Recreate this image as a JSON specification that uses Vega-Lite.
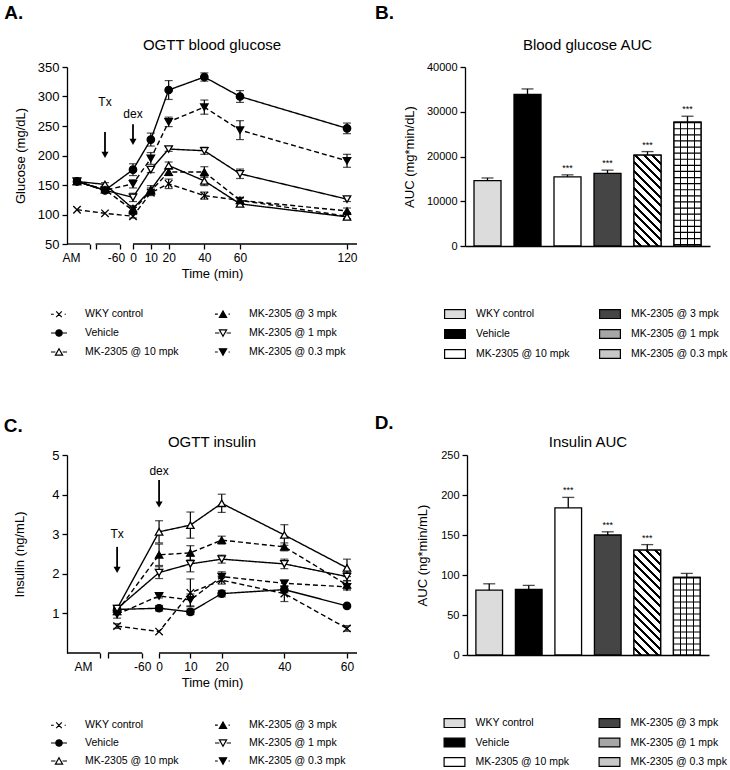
{
"$schema": "https://vega.github.io/schema/vega-lite/v6.json",
"padding": {"left": 3, "top": 4, "right": 3, "bottom": 3},
"config": {
  "font": "Liberation Sans",
  "view": {"stroke": null},
  "axis": {"domainColor": "black", "domainWidth": 1.3, "tickColor": "black", "tickWidth": 1.3, "tickSize": 5, "labelColor": "black", "labelFontSize": 12, "labelPadding": 3, "titleColor": "black", "titleFontSize": 13, "titleFontWeight": "normal", "grid": false, "labelOverlap": false, "labelFlush": false, "labelBound": false},
  "title": {"fontSize": 15, "fontWeight": "normal", "color": "black"},
  "legend": {"labelFontSize": 10.5, "labelColor": "black", "padding": 0}
},
"datasets": {
  "glucose": [
    {"s": "WKY control", "t": -31.4, "v": 108, "e": 0}, {"s": "WKY control", "t": -15.7, "v": 102, "e": 0}, {"s": "WKY control", "t": 0, "v": 97, "e": 3}, {"s": "WKY control", "t": 10, "v": 137, "e": 5}, {"s": "WKY control", "t": 20, "v": 152, "e": 8}, {"s": "WKY control", "t": 40, "v": 132, "e": 6}, {"s": "WKY control", "t": 60, "v": 124, "e": 5}, {"s": "WKY control", "t": 120, "v": 97, "e": 4},
    {"s": "Vehicle", "t": -31.4, "v": 156, "e": 4}, {"s": "Vehicle", "t": -15.7, "v": 141, "e": 4}, {"s": "Vehicle", "t": 0, "v": 176, "e": 10}, {"s": "Vehicle", "t": 10, "v": 227, "e": 11}, {"s": "Vehicle", "t": 20, "v": 311, "e": 16}, {"s": "Vehicle", "t": 40, "v": 333, "e": 7}, {"s": "Vehicle", "t": 60, "v": 300, "e": 10}, {"s": "Vehicle", "t": 120, "v": 246, "e": 9},
    {"s": "MK-2305 @ 10 mpk", "t": -31.4, "v": 156, "e": 4}, {"s": "MK-2305 @ 10 mpk", "t": -15.7, "v": 151, "e": 3}, {"s": "MK-2305 @ 10 mpk", "t": 0, "v": 110, "e": 5}, {"s": "MK-2305 @ 10 mpk", "t": 10, "v": 142, "e": 7}, {"s": "MK-2305 @ 10 mpk", "t": 20, "v": 183, "e": 6}, {"s": "MK-2305 @ 10 mpk", "t": 40, "v": 157, "e": 8}, {"s": "MK-2305 @ 10 mpk", "t": 60, "v": 118, "e": 4}, {"s": "MK-2305 @ 10 mpk", "t": 120, "v": 96, "e": 4},
    {"s": "MK-2305 @ 3 mpk", "t": -31.4, "v": 156, "e": 4}, {"s": "MK-2305 @ 3 mpk", "t": -15.7, "v": 142, "e": 3}, {"s": "MK-2305 @ 3 mpk", "t": 0, "v": 107, "e": 5}, {"s": "MK-2305 @ 3 mpk", "t": 10, "v": 140, "e": 5}, {"s": "MK-2305 @ 3 mpk", "t": 20, "v": 172, "e": 6}, {"s": "MK-2305 @ 3 mpk", "t": 40, "v": 172, "e": 9}, {"s": "MK-2305 @ 3 mpk", "t": 60, "v": 124, "e": 4}, {"s": "MK-2305 @ 3 mpk", "t": 120, "v": 106, "e": 5},
    {"s": "MK-2305 @ 1 mpk", "t": -31.4, "v": 156, "e": 4}, {"s": "MK-2305 @ 1 mpk", "t": -15.7, "v": 141, "e": 3}, {"s": "MK-2305 @ 1 mpk", "t": 0, "v": 129, "e": 7}, {"s": "MK-2305 @ 1 mpk", "t": 10, "v": 176, "e": 5}, {"s": "MK-2305 @ 1 mpk", "t": 20, "v": 211, "e": 4}, {"s": "MK-2305 @ 1 mpk", "t": 40, "v": 208, "e": 6}, {"s": "MK-2305 @ 1 mpk", "t": 60, "v": 169, "e": 8}, {"s": "MK-2305 @ 1 mpk", "t": 120, "v": 126, "e": 4},
    {"s": "MK-2305 @ 0.3 mpk", "t": -31.4, "v": 156, "e": 4}, {"s": "MK-2305 @ 0.3 mpk", "t": -15.7, "v": 141, "e": 3}, {"s": "MK-2305 @ 0.3 mpk", "t": 0, "v": 152, "e": 7}, {"s": "MK-2305 @ 0.3 mpk", "t": 10, "v": 195, "e": 10}, {"s": "MK-2305 @ 0.3 mpk", "t": 20, "v": 257, "e": 8}, {"s": "MK-2305 @ 0.3 mpk", "t": 40, "v": 282, "e": 12}, {"s": "MK-2305 @ 0.3 mpk", "t": 60, "v": 243, "e": 16}, {"s": "MK-2305 @ 0.3 mpk", "t": 120, "v": 191, "e": 11}
  ],
  "insulin": [
    {"s": "WKY control", "t": -13.4, "v": 0.68, "e": 0.06}, {"s": "WKY control", "t": 0, "v": 0.54, "e": 0}, {"s": "WKY control", "t": 10, "v": 1.52, "e": 0.35}, {"s": "WKY control", "t": 20, "v": 1.84, "e": 0.1}, {"s": "WKY control", "t": 40, "v": 1.5, "e": 0.2}, {"s": "WKY control", "t": 60, "v": 0.62, "e": 0.07},
    {"s": "Vehicle", "t": -13.4, "v": 1.1, "e": 0.08}, {"s": "Vehicle", "t": 0, "v": 1.13, "e": 0.07}, {"s": "Vehicle", "t": 10, "v": 1.04, "e": 0.07}, {"s": "Vehicle", "t": 20, "v": 1.5, "e": 0.08}, {"s": "Vehicle", "t": 40, "v": 1.6, "e": 0.08}, {"s": "Vehicle", "t": 60, "v": 1.19, "e": 0.03},
    {"s": "MK-2305 @ 10 mpk", "t": -13.4, "v": 1.12, "e": 0.08}, {"s": "MK-2305 @ 10 mpk", "t": 0, "v": 3.06, "e": 0.28}, {"s": "MK-2305 @ 10 mpk", "t": 10, "v": 3.23, "e": 0.33}, {"s": "MK-2305 @ 10 mpk", "t": 20, "v": 3.78, "e": 0.23}, {"s": "MK-2305 @ 10 mpk", "t": 40, "v": 2.98, "e": 0.26}, {"s": "MK-2305 @ 10 mpk", "t": 60, "v": 2.15, "e": 0.22},
    {"s": "MK-2305 @ 3 mpk", "t": -13.4, "v": 1.05, "e": 0.08}, {"s": "MK-2305 @ 3 mpk", "t": 0, "v": 2.48, "e": 0.27}, {"s": "MK-2305 @ 3 mpk", "t": 10, "v": 2.53, "e": 0.18}, {"s": "MK-2305 @ 3 mpk", "t": 20, "v": 2.85, "e": 0.1}, {"s": "MK-2305 @ 3 mpk", "t": 40, "v": 2.68, "e": 0.1}, {"s": "MK-2305 @ 3 mpk", "t": 60, "v": 1.72, "e": 0.1},
    {"s": "MK-2305 @ 1 mpk", "t": -13.4, "v": 1.12, "e": 0.08}, {"s": "MK-2305 @ 1 mpk", "t": 0, "v": 2.03, "e": 0.15}, {"s": "MK-2305 @ 1 mpk", "t": 10, "v": 2.25, "e": 0.2}, {"s": "MK-2305 @ 1 mpk", "t": 20, "v": 2.37, "e": 0.1}, {"s": "MK-2305 @ 1 mpk", "t": 40, "v": 2.25, "e": 0.12}, {"s": "MK-2305 @ 1 mpk", "t": 60, "v": 1.93, "e": 0.1},
    {"s": "MK-2305 @ 0.3 mpk", "t": -13.4, "v": 0.98, "e": 0.1}, {"s": "MK-2305 @ 0.3 mpk", "t": 0, "v": 1.44, "e": 0.05}, {"s": "MK-2305 @ 0.3 mpk", "t": 10, "v": 1.34, "e": 0.15}, {"s": "MK-2305 @ 0.3 mpk", "t": 20, "v": 1.93, "e": 0.12}, {"s": "MK-2305 @ 0.3 mpk", "t": 40, "v": 1.76, "e": 0.08}, {"s": "MK-2305 @ 0.3 mpk", "t": 60, "v": 1.67, "e": 0.08}
  ],
  "gauc": [
    {"g": "WKY control", "v": 14600, "e": 600, "sig": false},
    {"g": "Vehicle", "v": 33900, "e": 1200, "sig": false},
    {"g": "MK-2305 @ 10 mpk", "v": 15450, "e": 450, "sig": true},
    {"g": "MK-2305 @ 3 mpk", "v": 16250, "e": 700, "sig": true},
    {"g": "MK-2305 @ 1 mpk", "v": 20300, "e": 800, "sig": true},
    {"g": "MK-2305 @ 0.3 mpk", "v": 27700, "e": 1300, "sig": true}
  ],
  "iauc": [
    {"g": "WKY control", "v": 81, "e": 8, "sig": false},
    {"g": "Vehicle", "v": 82, "e": 5, "sig": false},
    {"g": "MK-2305 @ 10 mpk", "v": 184, "e": 13, "sig": true},
    {"g": "MK-2305 @ 3 mpk", "v": 150, "e": 4, "sig": true},
    {"g": "MK-2305 @ 1 mpk", "v": 131, "e": 7, "sig": true},
    {"g": "MK-2305 @ 0.3 mpk", "v": 97, "e": 5, "sig": false}
  ],
  "annA": [{"t": -15.7, "ytxt": 290, "y1": 240, "y2": 201, "lab": "Tx"}, {"t": 0, "ytxt": 270, "y1": 253, "y2": 223, "lab": "dex"}],
  "annC": [{"t": -13.4, "ytxt": 3.0, "y1": 2.68, "y2": 2.1, "lab": "Tx"}, {"t": 0, "ytxt": 4.6, "y1": 4.37, "y2": 3.75, "lab": "dex"}],
  "axA": [{"a": -37, "b": -24.1}, {"a": -21, "b": -7.3}, {"a": 0, "b": 125.6}],
  "axC": [{"a": -29.4, "b": -18.8}, {"a": -16.3, "b": -5.4}, {"a": 0, "b": 63.2}]
},
"vconcat": [
 {"spacing": 16, "hconcat": [
  {"title": {"text": "A.", "anchor": "start", "fontSize": 19, "fontWeight": "bold", "dx": -10, "offset": 15},
   "vconcat": [{
    "title": {"text": "OGTT blood glucose", "offset": 8},
    "width": 290, "height": 177,
    "resolve": {"scale": {"shape": "independent", "fill": "independent"}},
    "layer": [
     {"data": {"name": "axA"}, "mark": {"type": "rule", "color": "black", "strokeWidth": 1.3},
      "encoding": {"x": {"field": "a", "type": "quantitative", "title": "Time (min)", "scale": {"domain": [-37, 125.6], "nice": false, "zero": false}}, "x2": {"field": "b"},
                   "y": {"datum": 50, "type": "quantitative", "title": "Glucose (mg/dL)", "scale": {"domain": [50, 350], "nice": false, "zero": false}}}},
     {"data": {"name": "glucose"}, "mark": {"type": "line", "color": "black", "strokeWidth": 1.4},
      "encoding": {"x": {"field": "t", "type": "quantitative", "title": "Time (min)", "scale": {"domain": [-37, 125.6], "nice": false, "zero": false},
                         "axis": {"values": [-34.8, -24.1, -21, -7.3, 0, 10, 20, 40, 60, 120], "tickCount": 30, "labelExpr": "datum.value < -30 ? 'AM' : datum.value < -20 ? '' : datum.value < -1 ? '-60' : datum.label", "domain": false, "labelOffset": {"condition": {"test": "datum.value > -10 && datum.value < -1", "value": -4}, "value": 0}, "tickOpacity": {"condition": {"test": "datum.value < -30", "value": 0}, "value": 1}}},
                   "y": {"field": "v", "type": "quantitative", "title": "Glucose (mg/dL)", "scale": {"domain": [50, 350], "nice": false, "zero": false}, "axis": {"values": [50, 100, 150, 200, 250, 300, 350], "tickCount": 30, "labelFontSize": 13, "titlePadding": 10}},
                   "strokeDash": {"field": "s", "type": "nominal", "scale": {"domain": ["WKY control", "MK-2305 @ 3 mpk", "Vehicle", "MK-2305 @ 1 mpk", "MK-2305 @ 10 mpk", "MK-2305 @ 0.3 mpk"], "range": [[5, 3], [5, 3], [1, 0], [1, 0], [1, 0], [5, 3]]}, "legend": null}}},
     {"data": {"name": "glucose"}, "transform": [{"filter": "datum.e > 0"}], "mark": {"type": "errorbar", "color": "black", "thickness": 1.2, "ticks": {"size": 8, "thickness": 1.2, "color": "black"}},
      "encoding": {"x": {"field": "t", "type": "quantitative", "title": "Time (min)", "scale": {"domain": [-37, 125.6], "nice": false, "zero": false}},
                   "y": {"field": "v", "type": "quantitative", "title": "Glucose (mg/dL)", "scale": {"domain": [50, 350], "nice": false, "zero": false}}, "yError": {"field": "e"}}},
     {"data": {"name": "glucose"}, "mark": {"type": "point", "size": 55, "strokeWidth": 1.3, "opacity": 1},
      "encoding": {"x": {"field": "t", "type": "quantitative", "title": "Time (min)", "scale": {"domain": [-37, 125.6], "nice": false, "zero": false}},
                   "y": {"field": "v", "type": "quantitative", "title": "Glucose (mg/dL)", "scale": {"domain": [50, 350], "nice": false, "zero": false}},
                   "shape": {"field": "s", "type": "nominal", "scale": {"domain": ["WKY control", "MK-2305 @ 3 mpk", "Vehicle", "MK-2305 @ 1 mpk", "MK-2305 @ 10 mpk", "MK-2305 @ 0.3 mpk"], "range": ["M-1,-1L1,1M-1,1L1,-1", "triangle-up", "circle", "triangle-down", "triangle-up", "triangle-down"]}, "legend": null},
                   "fill": {"field": "s", "type": "nominal", "scale": {"domain": ["WKY control", "MK-2305 @ 3 mpk", "Vehicle", "MK-2305 @ 1 mpk", "MK-2305 @ 10 mpk", "MK-2305 @ 0.3 mpk"], "range": ["white", "black", "black", "white", "white", "black"]}, "legend": null},
                   "stroke": {"value": "black"}}},
     {"data": {"name": "glucose"}, "mark": {"type": "point", "opacity": 0, "strokeWidth": 1.2},
      "encoding": {"x": {"field": "t", "type": "quantitative", "title": "Time (min)", "scale": {"domain": [-37, 125.6], "nice": false, "zero": false}},
                   "y": {"field": "v", "type": "quantitative", "title": "Glucose (mg/dL)", "scale": {"domain": [50, 350], "nice": false, "zero": false}},
                   "shape": {"field": "s", "type": "nominal", "scale": {"domain": ["WKY control", "MK-2305 @ 3 mpk", "Vehicle", "MK-2305 @ 1 mpk", "MK-2305 @ 10 mpk", "MK-2305 @ 0.3 mpk"], "range": ["M-1,0H-0.65M-0.35,-0.35L0.35,0.35M-0.35,0.35L0.35,-0.35M0.7,0H0.85", "M-1,0H-0.65M0,-0.4L0.45,0.4H-0.45ZM0.7,0H0.85", "M-1,0H1M-0.4,0A0.4,0.4,0,1,1,0.4,0A0.4,0.4,0,1,1,-0.4,0Z", "M-1,0H-0.45M0.45,0H1M0,0.4L0.45,-0.4H-0.45Z", "M-1,0H-0.45M0.45,0H1M0,-0.4L0.45,0.4H-0.45Z", "M-1,0H-0.65M0,0.4L0.45,-0.4H-0.45ZM0.7,0H0.85"]},
                             "legend": {"orient": "none", "legendX": -17, "legendY": 238, "direction": "horizontal", "columns": 2, "title": null, "symbolSize": 256, "symbolOpacity": 1, "symbolStrokeColor": "black", "symbolStrokeWidth": 1.2, "labelOffset": 17, "columnPadding": 33, "rowPadding": 4, "encode": {"symbols": {"update": {"stroke": {"value": "black"}, "strokeWidth": {"value": 1.2}, "opacity": {"value": 1}}}}}},
                   "fill": {"field": "s", "type": "nominal", "scale": {"domain": ["WKY control", "MK-2305 @ 3 mpk", "Vehicle", "MK-2305 @ 1 mpk", "MK-2305 @ 10 mpk", "MK-2305 @ 0.3 mpk"], "range": ["white", "black", "black", "white", "white", "black"]},
                            "legend": {"orient": "none", "legendX": -17, "legendY": 238, "direction": "horizontal", "columns": 2, "title": null, "symbolSize": 256, "symbolOpacity": 1, "symbolStrokeColor": "black", "symbolStrokeWidth": 1.2, "labelOffset": 17, "columnPadding": 33, "rowPadding": 4, "encode": {"symbols": {"update": {"stroke": {"value": "black"}, "strokeWidth": {"value": 1.2}, "opacity": {"value": 1}}}}}},
                   "stroke": {"value": "black"}}},
     {"data": {"name": "annA"}, "mark": {"type": "rule", "color": "black", "strokeWidth": 1.8},
      "encoding": {"x": {"field": "t", "type": "quantitative", "title": "Time (min)", "scale": {"domain": [-37, 125.6], "nice": false, "zero": false}},
                   "y": {"field": "y1", "type": "quantitative", "title": "Glucose (mg/dL)", "scale": {"domain": [50, 350], "nice": false, "zero": false}}, "y2": {"field": "y2"}}},
     {"data": {"name": "annA"}, "mark": {"type": "point", "shape": "triangle-down", "filled": true, "color": "black", "size": 50, "opacity": 1},
      "encoding": {"x": {"field": "t", "type": "quantitative", "title": "Time (min)", "scale": {"domain": [-37, 125.6], "nice": false, "zero": false}},
                   "y": {"field": "y2", "type": "quantitative", "title": "Glucose (mg/dL)", "scale": {"domain": [50, 350], "nice": false, "zero": false}}}},
     {"data": {"name": "annA"}, "mark": {"type": "text", "fontSize": 12, "color": "black"},
      "encoding": {"x": {"field": "t", "type": "quantitative", "title": "Time (min)", "scale": {"domain": [-37, 125.6], "nice": false, "zero": false}},
                   "y": {"field": "ytxt", "type": "quantitative", "title": "Glucose (mg/dL)", "scale": {"domain": [50, 350], "nice": false, "zero": false}}, "text": {"field": "lab"}}}
    ]
   }]
  },
  {"title": {"text": "B.", "anchor": "start", "fontSize": 19, "fontWeight": "bold", "dx": -29, "offset": 15},
   "vconcat": [{
    "title": {"text": "Blood glucose AUC", "offset": 8},
    "width": 245, "height": 179,
    "resolve": {"scale": {"shape": "independent", "fill": "independent"}},
    "layer": [
     {"data": {"name": "gauc"}, "mark": {"type": "bar", "stroke": "black", "strokeWidth": 1.3},
      "encoding": {"x": {"field": "g", "type": "nominal", "title": null, "sort": ["WKY control", "Vehicle", "MK-2305 @ 10 mpk", "MK-2305 @ 3 mpk", "MK-2305 @ 1 mpk", "MK-2305 @ 0.3 mpk"], "scale": {"paddingInner": 0.325, "paddingOuter": 0.225}, "axis": {"labels": false, "ticks": false}},
                   "y": {"field": "v", "type": "quantitative", "title": "AUC (mg*min/dL)", "scale": {"domain": [0, 40000], "nice": false}, "axis": {"values": [0, 10000, 20000, 30000, 40000], "tickCount": 30, "format": "d", "labelFontSize": 11, "titlePadding": 9.5}},
                   "fill": {"field": "g", "type": "nominal", "scale": {"domain": ["WKY control", "MK-2305 @ 3 mpk", "Vehicle", "MK-2305 @ 1 mpk", "MK-2305 @ 10 mpk", "MK-2305 @ 0.3 mpk"], "range": ["#dcdcdc", "#454545", "black", "#a6a6a6", "white", "#c8c8c8"]}, "legend": null}}},
     {"data": {"name": "gauc"}, "transform": [{"filter": "datum.g == 'MK-2305 @ 1 mpk'"}],
      "mark": {"type": "bar", "stroke": "black", "strokeWidth": 1.3, "fill": {"gradient": "linear", "x1": 0, "y1": 1, "x2": 0.4092, "y2": -0.3761, "stops": [
        {"offset": 0, "color": "white"}, {"offset": 0.0405, "color": "white"}, {"offset": 0.0405, "color": "black"}, {"offset": 0.0625, "color": "black"},
        {"offset": 0.0625, "color": "white"}, {"offset": 0.103, "color": "white"}, {"offset": 0.103, "color": "black"}, {"offset": 0.125, "color": "black"},
        {"offset": 0.125, "color": "white"}, {"offset": 0.1655, "color": "white"}, {"offset": 0.1655, "color": "black"}, {"offset": 0.1875, "color": "black"},
        {"offset": 0.1875, "color": "white"}, {"offset": 0.228, "color": "white"}, {"offset": 0.228, "color": "black"}, {"offset": 0.25, "color": "black"},
        {"offset": 0.25, "color": "white"}, {"offset": 0.2905, "color": "white"}, {"offset": 0.2905, "color": "black"}, {"offset": 0.3125, "color": "black"},
        {"offset": 0.3125, "color": "white"}, {"offset": 0.353, "color": "white"}, {"offset": 0.353, "color": "black"}, {"offset": 0.375, "color": "black"},
        {"offset": 0.375, "color": "white"}, {"offset": 0.4155, "color": "white"}, {"offset": 0.4155, "color": "black"}, {"offset": 0.4375, "color": "black"},
        {"offset": 0.4375, "color": "white"}, {"offset": 0.478, "color": "white"}, {"offset": 0.478, "color": "black"}, {"offset": 0.5, "color": "black"},
        {"offset": 0.5, "color": "white"}, {"offset": 0.5405, "color": "white"}, {"offset": 0.5405, "color": "black"}, {"offset": 0.5625, "color": "black"},
        {"offset": 0.5625, "color": "white"}, {"offset": 0.603, "color": "white"}, {"offset": 0.603, "color": "black"}, {"offset": 0.625, "color": "black"},
        {"offset": 0.625, "color": "white"}, {"offset": 0.6655, "color": "white"}, {"offset": 0.6655, "color": "black"}, {"offset": 0.6875, "color": "black"},
        {"offset": 0.6875, "color": "white"}, {"offset": 0.728, "color": "white"}, {"offset": 0.728, "color": "black"}, {"offset": 0.75, "color": "black"},
        {"offset": 0.75, "color": "white"}, {"offset": 0.7905, "color": "white"}, {"offset": 0.7905, "color": "black"}, {"offset": 0.8125, "color": "black"},
        {"offset": 0.8125, "color": "white"}, {"offset": 0.853, "color": "white"}, {"offset": 0.853, "color": "black"}, {"offset": 0.875, "color": "black"},
        {"offset": 0.875, "color": "white"}, {"offset": 0.9155, "color": "white"}, {"offset": 0.9155, "color": "black"}, {"offset": 0.9375, "color": "black"},
        {"offset": 0.9375, "color": "white"}, {"offset": 0.978, "color": "white"}, {"offset": 0.978, "color": "black"}, {"offset": 1, "color": "black"}]}},
      "encoding": {"x": {"field": "g", "type": "nominal", "title": null, "sort": ["WKY control", "Vehicle", "MK-2305 @ 10 mpk", "MK-2305 @ 3 mpk", "MK-2305 @ 1 mpk", "MK-2305 @ 0.3 mpk"]},
                   "y": {"field": "v", "type": "quantitative", "title": "AUC (mg*min/dL)", "scale": {"domain": [0, 40000], "nice": false}}}},
     {"data": {"name": "gauc"}, "transform": [{"filter": "datum.g == 'MK-2305 @ 0.3 mpk'"}],
      "mark": {"type": "bar", "stroke": "black", "strokeWidth": 1.3, "fill": {"gradient": "linear", "x1": 0, "y1": 0, "x2": 1, "y2": 0, "stops": [
        {"offset": 0, "color": "white"}, {"offset": 0.228, "color": "white"}, {"offset": 0.228, "color": "black"}, {"offset": 0.272, "color": "black"}, {"offset": 0.272, "color": "white"},
        {"offset": 0.478, "color": "white"}, {"offset": 0.478, "color": "black"}, {"offset": 0.522, "color": "black"}, {"offset": 0.522, "color": "white"},
        {"offset": 0.728, "color": "white"}, {"offset": 0.728, "color": "black"}, {"offset": 0.772, "color": "black"}, {"offset": 0.772, "color": "white"}, {"offset": 1, "color": "white"}]}},
      "encoding": {"x": {"field": "g", "type": "nominal", "title": null, "sort": ["WKY control", "Vehicle", "MK-2305 @ 10 mpk", "MK-2305 @ 3 mpk", "MK-2305 @ 1 mpk", "MK-2305 @ 0.3 mpk"]},
                   "y": {"field": "v", "type": "quantitative", "title": "AUC (mg*min/dL)", "scale": {"domain": [0, 40000], "nice": false}}}},
     {"data": {"name": "gauc"}, "transform": [{"filter": "datum.g == 'MK-2305 @ 0.3 mpk'"}],
      "mark": {"type": "rule", "color": "black", "strokeWidth": 27, "strokeCap": "butt", "strokeDash": [1.2, 4.9]},
      "encoding": {"x": {"field": "g", "type": "nominal", "title": null, "sort": ["WKY control", "Vehicle", "MK-2305 @ 10 mpk", "MK-2305 @ 3 mpk", "MK-2305 @ 1 mpk", "MK-2305 @ 0.3 mpk"]},
                   "y": {"field": "v", "type": "quantitative", "title": "AUC (mg*min/dL)", "scale": {"domain": [0, 40000], "nice": false}}, "y2": {"datum": 0}}},
     {"data": {"name": "gauc"}, "transform": [{"calculate": "datum.v + datum.e", "as": "hi"}], "mark": {"type": "rule", "color": "black", "strokeWidth": 1.3},
      "encoding": {"x": {"field": "g", "type": "nominal", "title": null, "sort": ["WKY control", "Vehicle", "MK-2305 @ 10 mpk", "MK-2305 @ 3 mpk", "MK-2305 @ 1 mpk", "MK-2305 @ 0.3 mpk"]},
                   "y": {"field": "v", "type": "quantitative", "title": "AUC (mg*min/dL)", "scale": {"domain": [0, 40000], "nice": false}}, "y2": {"field": "hi"}}},
     {"data": {"name": "gauc"}, "transform": [{"calculate": "datum.v + datum.e", "as": "hi"}], "mark": {"type": "tick", "color": "black", "thickness": 1.3, "size": 12, "orient": "horizontal"},
      "encoding": {"x": {"field": "g", "type": "nominal", "title": null, "sort": ["WKY control", "Vehicle", "MK-2305 @ 10 mpk", "MK-2305 @ 3 mpk", "MK-2305 @ 1 mpk", "MK-2305 @ 0.3 mpk"]},
                   "y": {"field": "hi", "type": "quantitative", "title": "AUC (mg*min/dL)", "scale": {"domain": [0, 40000], "nice": false}}}},
     {"data": {"name": "gauc"}, "transform": [{"calculate": "datum.v + datum.e", "as": "hi"}, {"filter": "datum.sig"}], "mark": {"type": "text", "color": "black", "fontSize": 9, "dy": -7},
      "encoding": {"x": {"field": "g", "type": "nominal", "title": null, "sort": ["WKY control", "Vehicle", "MK-2305 @ 10 mpk", "MK-2305 @ 3 mpk", "MK-2305 @ 1 mpk", "MK-2305 @ 0.3 mpk"]},
                   "y": {"field": "hi", "type": "quantitative", "title": "AUC (mg*min/dL)", "scale": {"domain": [0, 40000], "nice": false}}, "text": {"value": "***"}}},
     {"data": {"name": "gauc"}, "mark": {"type": "point", "opacity": 0, "strokeWidth": 1.2},
      "encoding": {"x": {"field": "g", "type": "nominal", "title": null, "sort": ["WKY control", "Vehicle", "MK-2305 @ 10 mpk", "MK-2305 @ 3 mpk", "MK-2305 @ 1 mpk", "MK-2305 @ 0.3 mpk"]},
                   "y": {"field": "v", "type": "quantitative", "title": "AUC (mg*min/dL)", "scale": {"domain": [0, 40000], "nice": false}},
                   "shape": {"field": "g", "type": "nominal", "scale": {"domain": ["WKY control", "MK-2305 @ 3 mpk", "Vehicle", "MK-2305 @ 1 mpk", "MK-2305 @ 10 mpk", "MK-2305 @ 0.3 mpk"], "range": ["M-1.3,-0.55H1.3V0.55H-1.3Z", "M-1.3,-0.55H1.3V0.55H-1.3Z", "M-1.3,-0.55H1.3V0.55H-1.3Z", "M-1.3,-0.55H1.3V0.55H-1.3Z", "M-1.3,-0.55H1.3V0.55H-1.3Z", "M-1.3,-0.55H1.3V0.55H-1.3Z"]},
                             "legend": {"orient": "none", "legendX": -19, "legendY": 238, "direction": "horizontal", "columns": 2, "title": null, "symbolSize": 256, "symbolOpacity": 1, "symbolStrokeColor": "black", "symbolStrokeWidth": 1.2, "labelOffset": 12, "columnPadding": 27, "rowPadding": 4, "encode": {"symbols": {"update": {"stroke": {"value": "black"}, "strokeWidth": {"value": 1.2}, "opacity": {"value": 1}, "fill": {"signal": "datum.value === 'MK-2305 @ 1 mpk' ? {gradient: 'linear', x1: 0, y1: 1, x2: 1.208, y2: 0.489, stops: [{offset: 0, color: 'white'}, {offset: 0.15, color: 'white'}, {offset: 0.15, color: 'black'}, {offset: 0.25, color: 'black'}, {offset: 0.25, color: 'white'}, {offset: 0.4, color: 'white'}, {offset: 0.4, color: 'black'}, {offset: 0.5, color: 'black'}, {offset: 0.5, color: 'white'}, {offset: 0.65, color: 'white'}, {offset: 0.65, color: 'black'}, {offset: 0.75, color: 'black'}, {offset: 0.75, color: 'white'}, {offset: 0.9, color: 'white'}, {offset: 0.9, color: 'black'}, {offset: 1, color: 'black'}]} : datum.value === 'MK-2305 @ 0.3 mpk' ? {gradient: 'linear', x1: 0, y1: 0, x2: 1, y2: 0, stops: [{offset: 0, color: 'white'}, {offset: 0.23, color: 'white'}, {offset: 0.23, color: 'black'}, {offset: 0.28, color: 'black'}, {offset: 0.28, color: 'white'}, {offset: 0.475, color: 'white'}, {offset: 0.475, color: 'black'}, {offset: 0.525, color: 'black'}, {offset: 0.525, color: 'white'}, {offset: 0.72, color: 'white'}, {offset: 0.72, color: 'black'}, {offset: 0.77, color: 'black'}, {offset: 0.77, color: 'white'}, {offset: 1, color: 'white'}]} : datum.value === 'Vehicle' ? 'black' : datum.value === 'MK-2305 @ 10 mpk' ? 'white' : datum.value === 'MK-2305 @ 3 mpk' ? '#454545' : '#dcdcdc'"}}}}}},
                   "fill": {"field": "g", "type": "nominal", "scale": {"domain": ["WKY control", "MK-2305 @ 3 mpk", "Vehicle", "MK-2305 @ 1 mpk", "MK-2305 @ 10 mpk", "MK-2305 @ 0.3 mpk"], "range": ["#dcdcdc", "#454545", "black", "#a6a6a6", "white", "#c8c8c8"]},
                            "legend": {"orient": "none", "legendX": -19, "legendY": 238, "direction": "horizontal", "columns": 2, "title": null, "symbolSize": 256, "symbolOpacity": 1, "symbolStrokeColor": "black", "symbolStrokeWidth": 1.2, "labelOffset": 12, "columnPadding": 27, "rowPadding": 4, "encode": {"symbols": {"update": {"stroke": {"value": "black"}, "strokeWidth": {"value": 1.2}, "opacity": {"value": 1}, "fill": {"signal": "datum.value === 'MK-2305 @ 1 mpk' ? {gradient: 'linear', x1: 0, y1: 1, x2: 1.208, y2: 0.489, stops: [{offset: 0, color: 'white'}, {offset: 0.15, color: 'white'}, {offset: 0.15, color: 'black'}, {offset: 0.25, color: 'black'}, {offset: 0.25, color: 'white'}, {offset: 0.4, color: 'white'}, {offset: 0.4, color: 'black'}, {offset: 0.5, color: 'black'}, {offset: 0.5, color: 'white'}, {offset: 0.65, color: 'white'}, {offset: 0.65, color: 'black'}, {offset: 0.75, color: 'black'}, {offset: 0.75, color: 'white'}, {offset: 0.9, color: 'white'}, {offset: 0.9, color: 'black'}, {offset: 1, color: 'black'}]} : datum.value === 'MK-2305 @ 0.3 mpk' ? {gradient: 'linear', x1: 0, y1: 0, x2: 1, y2: 0, stops: [{offset: 0, color: 'white'}, {offset: 0.23, color: 'white'}, {offset: 0.23, color: 'black'}, {offset: 0.28, color: 'black'}, {offset: 0.28, color: 'white'}, {offset: 0.475, color: 'white'}, {offset: 0.475, color: 'black'}, {offset: 0.525, color: 'black'}, {offset: 0.525, color: 'white'}, {offset: 0.72, color: 'white'}, {offset: 0.72, color: 'black'}, {offset: 0.77, color: 'black'}, {offset: 0.77, color: 'white'}, {offset: 1, color: 'white'}]} : datum.value === 'Vehicle' ? 'black' : datum.value === 'MK-2305 @ 10 mpk' ? 'white' : datum.value === 'MK-2305 @ 3 mpk' ? '#454545' : '#dcdcdc'"}}}}}},
                   "stroke": {"value": "black"}}}
    ]
   }]
  }
 ]},
 {"spacing": 16, "hconcat": [
  {"title": {"text": "C.", "anchor": "start", "fontSize": 19, "fontWeight": "bold", "dx": -10, "offset": -1},
   "vconcat": [{
    "title": {"text": "OGTT insulin", "offset": -1},
    "width": 290, "height": 198,
    "resolve": {"scale": {"shape": "independent", "fill": "independent"}},
    "layer": [
     {"data": {"name": "axC"}, "mark": {"type": "rule", "color": "black", "strokeWidth": 1.3},
      "encoding": {"x": {"field": "a", "type": "quantitative", "title": "Time (min)", "scale": {"domain": [-29.4, 63.2], "nice": false, "zero": false}}, "x2": {"field": "b"},
                   "y": {"datum": 0, "type": "quantitative", "title": "Insulin (ng/mL)", "scale": {"domain": [0, 5], "nice": false, "zero": false}}}},
     {"data": {"name": "insulin"}, "mark": {"type": "line", "color": "black", "strokeWidth": 1.4},
      "encoding": {"x": {"field": "t", "type": "quantitative", "title": "Time (min)", "scale": {"domain": [-29.4, 63.2], "nice": false, "zero": false},
                         "axis": {"values": [-24.3, -18.8, -16.3, -5.4, 0, 10, 20, 40, 60], "tickCount": 30, "labelExpr": "datum.value < -20 ? 'AM' : datum.value < -10 ? '' : datum.value < -1 ? '-60' : datum.label", "domain": false, "tickOpacity": {"condition": {"test": "datum.value < -20", "value": 0}, "value": 1}}},
                   "y": {"field": "v", "type": "quantitative", "title": "Insulin (ng/mL)", "scale": {"domain": [0, 5], "nice": false, "zero": false}, "axis": {"values": [1, 2, 3, 4, 5], "tickCount": 30, "format": "d", "labelFontSize": 13, "titlePadding": 25}},
                   "strokeDash": {"field": "s", "type": "nominal", "scale": {"domain": ["WKY control", "MK-2305 @ 3 mpk", "Vehicle", "MK-2305 @ 1 mpk", "MK-2305 @ 10 mpk", "MK-2305 @ 0.3 mpk"], "range": [[5, 3], [5, 3], [1, 0], [1, 0], [1, 0], [5, 3]]}, "legend": null}}},
     {"data": {"name": "insulin"}, "transform": [{"filter": "datum.e > 0"}], "mark": {"type": "errorbar", "color": "black", "thickness": 1.2, "ticks": {"size": 8, "thickness": 1.2, "color": "black"}},
      "encoding": {"x": {"field": "t", "type": "quantitative", "title": "Time (min)", "scale": {"domain": [-29.4, 63.2], "nice": false, "zero": false}},
                   "y": {"field": "v", "type": "quantitative", "title": "Insulin (ng/mL)", "scale": {"domain": [0, 5], "nice": false, "zero": false}}, "yError": {"field": "e"}}},
     {"data": {"name": "insulin"}, "mark": {"type": "point", "size": 55, "strokeWidth": 1.3, "opacity": 1},
      "encoding": {"x": {"field": "t", "type": "quantitative", "title": "Time (min)", "scale": {"domain": [-29.4, 63.2], "nice": false, "zero": false}},
                   "y": {"field": "v", "type": "quantitative", "title": "Insulin (ng/mL)", "scale": {"domain": [0, 5], "nice": false, "zero": false}},
                   "shape": {"field": "s", "type": "nominal", "scale": {"domain": ["WKY control", "MK-2305 @ 3 mpk", "Vehicle", "MK-2305 @ 1 mpk", "MK-2305 @ 10 mpk", "MK-2305 @ 0.3 mpk"], "range": ["M-1,-1L1,1M-1,1L1,-1", "triangle-up", "circle", "triangle-down", "triangle-up", "triangle-down"]}, "legend": null},
                   "fill": {"field": "s", "type": "nominal", "scale": {"domain": ["WKY control", "MK-2305 @ 3 mpk", "Vehicle", "MK-2305 @ 1 mpk", "MK-2305 @ 10 mpk", "MK-2305 @ 0.3 mpk"], "range": ["white", "black", "black", "white", "white", "black"]}, "legend": null},
                   "stroke": {"value": "black"}}},
     {"data": {"name": "insulin"}, "mark": {"type": "point", "opacity": 0, "strokeWidth": 1.2},
      "encoding": {"x": {"field": "t", "type": "quantitative", "title": "Time (min)", "scale": {"domain": [-29.4, 63.2], "nice": false, "zero": false}},
                   "y": {"field": "v", "type": "quantitative", "title": "Insulin (ng/mL)", "scale": {"domain": [0, 5], "nice": false, "zero": false}},
                   "shape": {"field": "s", "type": "nominal", "scale": {"domain": ["WKY control", "MK-2305 @ 3 mpk", "Vehicle", "MK-2305 @ 1 mpk", "MK-2305 @ 10 mpk", "MK-2305 @ 0.3 mpk"], "range": ["M-1,0H-0.65M-0.35,-0.35L0.35,0.35M-0.35,0.35L0.35,-0.35M0.7,0H0.85", "M-1,0H-0.65M0,-0.4L0.45,0.4H-0.45ZM0.7,0H0.85", "M-1,0H1M-0.4,0A0.4,0.4,0,1,1,0.4,0A0.4,0.4,0,1,1,-0.4,0Z", "M-1,0H-0.45M0.45,0H1M0,0.4L0.45,-0.4H-0.45Z", "M-1,0H-0.45M0.45,0H1M0,-0.4L0.45,0.4H-0.45Z", "M-1,0H-0.65M0,0.4L0.45,-0.4H-0.45ZM0.7,0H0.85"]},
                             "legend": {"orient": "none", "legendX": -17, "legendY": 261, "direction": "horizontal", "columns": 2, "title": null, "symbolSize": 256, "symbolOpacity": 1, "symbolStrokeColor": "black", "symbolStrokeWidth": 1.2, "labelOffset": 17, "columnPadding": 33, "rowPadding": 3, "encode": {"symbols": {"update": {"stroke": {"value": "black"}, "strokeWidth": {"value": 1.2}, "opacity": {"value": 1}}}}}},
                   "fill": {"field": "s", "type": "nominal", "scale": {"domain": ["WKY control", "MK-2305 @ 3 mpk", "Vehicle", "MK-2305 @ 1 mpk", "MK-2305 @ 10 mpk", "MK-2305 @ 0.3 mpk"], "range": ["white", "black", "black", "white", "white", "black"]},
                            "legend": {"orient": "none", "legendX": -17, "legendY": 261, "direction": "horizontal", "columns": 2, "title": null, "symbolSize": 256, "symbolOpacity": 1, "symbolStrokeColor": "black", "symbolStrokeWidth": 1.2, "labelOffset": 17, "columnPadding": 33, "rowPadding": 3, "encode": {"symbols": {"update": {"stroke": {"value": "black"}, "strokeWidth": {"value": 1.2}, "opacity": {"value": 1}}}}}},
                   "stroke": {"value": "black"}}},
     {"data": {"name": "annC"}, "mark": {"type": "rule", "color": "black", "strokeWidth": 1.8},
      "encoding": {"x": {"field": "t", "type": "quantitative", "title": "Time (min)", "scale": {"domain": [-29.4, 63.2], "nice": false, "zero": false}},
                   "y": {"field": "y1", "type": "quantitative", "title": "Insulin (ng/mL)", "scale": {"domain": [0, 5], "nice": false, "zero": false}}, "y2": {"field": "y2"}}},
     {"data": {"name": "annC"}, "mark": {"type": "point", "shape": "triangle-down", "filled": true, "color": "black", "size": 50, "opacity": 1},
      "encoding": {"x": {"field": "t", "type": "quantitative", "title": "Time (min)", "scale": {"domain": [-29.4, 63.2], "nice": false, "zero": false}},
                   "y": {"field": "y2", "type": "quantitative", "title": "Insulin (ng/mL)", "scale": {"domain": [0, 5], "nice": false, "zero": false}}}},
     {"data": {"name": "annC"}, "mark": {"type": "text", "fontSize": 12, "color": "black"},
      "encoding": {"x": {"field": "t", "type": "quantitative", "title": "Time (min)", "scale": {"domain": [-29.4, 63.2], "nice": false, "zero": false}},
                   "y": {"field": "ytxt", "type": "quantitative", "title": "Insulin (ng/mL)", "scale": {"domain": [0, 5], "nice": false, "zero": false}}, "text": {"field": "lab"}}}
    ]
   }]
  },
  {"title": {"text": "D.", "anchor": "start", "fontSize": 19, "fontWeight": "bold", "dx": -42, "offset": 2},
   "vconcat": [{
    "title": {"text": "Insulin AUC", "offset": -1},
    "width": 242, "height": 200,
    "resolve": {"scale": {"shape": "independent", "fill": "independent"}},
    "layer": [
     {"data": {"name": "iauc"}, "mark": {"type": "bar", "stroke": "black", "strokeWidth": 1.3},
      "encoding": {"x": {"field": "g", "type": "nominal", "title": null, "sort": ["WKY control", "Vehicle", "MK-2305 @ 10 mpk", "MK-2305 @ 3 mpk", "MK-2305 @ 1 mpk", "MK-2305 @ 0.3 mpk"], "scale": {"paddingInner": 0.325, "paddingOuter": 0.225}, "axis": {"labels": false, "ticks": false}},
                   "y": {"field": "v", "type": "quantitative", "title": "AUC (ng*min/mL)", "scale": {"domain": [0, 250], "nice": false}, "axis": {"values": [0, 50, 100, 150, 200, 250], "tickCount": 30, "labelFontSize": 11, "titlePadding": 11}},
                   "fill": {"field": "g", "type": "nominal", "scale": {"domain": ["WKY control", "MK-2305 @ 3 mpk", "Vehicle", "MK-2305 @ 1 mpk", "MK-2305 @ 10 mpk", "MK-2305 @ 0.3 mpk"], "range": ["#dcdcdc", "#454545", "black", "#a6a6a6", "white", "#c8c8c8"]}, "legend": null}}},
     {"data": {"name": "iauc"}, "transform": [{"filter": "datum.g == 'MK-2305 @ 1 mpk'"}],
      "mark": {"type": "bar", "stroke": "black", "strokeWidth": 1.3, "fill": {"gradient": "linear", "x1": 0, "y1": 1, "x2": 0.3105, "y2": -0.2186, "stops": [
        {"offset": 0, "color": "white"}, {"offset": 0.0405, "color": "white"}, {"offset": 0.0405, "color": "black"}, {"offset": 0.0625, "color": "black"},
        {"offset": 0.0625, "color": "white"}, {"offset": 0.103, "color": "white"}, {"offset": 0.103, "color": "black"}, {"offset": 0.125, "color": "black"},
        {"offset": 0.125, "color": "white"}, {"offset": 0.1655, "color": "white"}, {"offset": 0.1655, "color": "black"}, {"offset": 0.1875, "color": "black"},
        {"offset": 0.1875, "color": "white"}, {"offset": 0.228, "color": "white"}, {"offset": 0.228, "color": "black"}, {"offset": 0.25, "color": "black"},
        {"offset": 0.25, "color": "white"}, {"offset": 0.2905, "color": "white"}, {"offset": 0.2905, "color": "black"}, {"offset": 0.3125, "color": "black"},
        {"offset": 0.3125, "color": "white"}, {"offset": 0.353, "color": "white"}, {"offset": 0.353, "color": "black"}, {"offset": 0.375, "color": "black"},
        {"offset": 0.375, "color": "white"}, {"offset": 0.4155, "color": "white"}, {"offset": 0.4155, "color": "black"}, {"offset": 0.4375, "color": "black"},
        {"offset": 0.4375, "color": "white"}, {"offset": 0.478, "color": "white"}, {"offset": 0.478, "color": "black"}, {"offset": 0.5, "color": "black"},
        {"offset": 0.5, "color": "white"}, {"offset": 0.5405, "color": "white"}, {"offset": 0.5405, "color": "black"}, {"offset": 0.5625, "color": "black"},
        {"offset": 0.5625, "color": "white"}, {"offset": 0.603, "color": "white"}, {"offset": 0.603, "color": "black"}, {"offset": 0.625, "color": "black"},
        {"offset": 0.625, "color": "white"}, {"offset": 0.6655, "color": "white"}, {"offset": 0.6655, "color": "black"}, {"offset": 0.6875, "color": "black"},
        {"offset": 0.6875, "color": "white"}, {"offset": 0.728, "color": "white"}, {"offset": 0.728, "color": "black"}, {"offset": 0.75, "color": "black"},
        {"offset": 0.75, "color": "white"}, {"offset": 0.7905, "color": "white"}, {"offset": 0.7905, "color": "black"}, {"offset": 0.8125, "color": "black"},
        {"offset": 0.8125, "color": "white"}, {"offset": 0.853, "color": "white"}, {"offset": 0.853, "color": "black"}, {"offset": 0.875, "color": "black"},
        {"offset": 0.875, "color": "white"}, {"offset": 0.9155, "color": "white"}, {"offset": 0.9155, "color": "black"}, {"offset": 0.9375, "color": "black"},
        {"offset": 0.9375, "color": "white"}, {"offset": 0.978, "color": "white"}, {"offset": 0.978, "color": "black"}, {"offset": 1, "color": "black"}]}},
      "encoding": {"x": {"field": "g", "type": "nominal", "title": null, "sort": ["WKY control", "Vehicle", "MK-2305 @ 10 mpk", "MK-2305 @ 3 mpk", "MK-2305 @ 1 mpk", "MK-2305 @ 0.3 mpk"]},
                   "y": {"field": "v", "type": "quantitative", "title": "AUC (ng*min/mL)", "scale": {"domain": [0, 250], "nice": false}}}},
     {"data": {"name": "iauc"}, "transform": [{"filter": "datum.g == 'MK-2305 @ 0.3 mpk'"}],
      "mark": {"type": "bar", "stroke": "black", "strokeWidth": 1.3, "fill": {"gradient": "linear", "x1": 0, "y1": 0, "x2": 1, "y2": 0, "stops": [
        {"offset": 0, "color": "white"}, {"offset": 0.228, "color": "white"}, {"offset": 0.228, "color": "black"}, {"offset": 0.272, "color": "black"}, {"offset": 0.272, "color": "white"},
        {"offset": 0.478, "color": "white"}, {"offset": 0.478, "color": "black"}, {"offset": 0.522, "color": "black"}, {"offset": 0.522, "color": "white"},
        {"offset": 0.728, "color": "white"}, {"offset": 0.728, "color": "black"}, {"offset": 0.772, "color": "black"}, {"offset": 0.772, "color": "white"}, {"offset": 1, "color": "white"}]}},
      "encoding": {"x": {"field": "g", "type": "nominal", "title": null, "sort": ["WKY control", "Vehicle", "MK-2305 @ 10 mpk", "MK-2305 @ 3 mpk", "MK-2305 @ 1 mpk", "MK-2305 @ 0.3 mpk"]},
                   "y": {"field": "v", "type": "quantitative", "title": "AUC (ng*min/mL)", "scale": {"domain": [0, 250], "nice": false}}}},
     {"data": {"name": "iauc"}, "transform": [{"filter": "datum.g == 'MK-2305 @ 0.3 mpk'"}],
      "mark": {"type": "rule", "color": "black", "strokeWidth": 26.7, "strokeCap": "butt", "strokeDash": [1.2, 4.8]},
      "encoding": {"x": {"field": "g", "type": "nominal", "title": null, "sort": ["WKY control", "Vehicle", "MK-2305 @ 10 mpk", "MK-2305 @ 3 mpk", "MK-2305 @ 1 mpk", "MK-2305 @ 0.3 mpk"]},
                   "y": {"field": "v", "type": "quantitative", "title": "AUC (ng*min/mL)", "scale": {"domain": [0, 250], "nice": false}}, "y2": {"datum": 0}}},
     {"data": {"name": "iauc"}, "transform": [{"calculate": "datum.v + datum.e", "as": "hi"}], "mark": {"type": "rule", "color": "black", "strokeWidth": 1.3},
      "encoding": {"x": {"field": "g", "type": "nominal", "title": null, "sort": ["WKY control", "Vehicle", "MK-2305 @ 10 mpk", "MK-2305 @ 3 mpk", "MK-2305 @ 1 mpk", "MK-2305 @ 0.3 mpk"]},
                   "y": {"field": "v", "type": "quantitative", "title": "AUC (ng*min/mL)", "scale": {"domain": [0, 250], "nice": false}}, "y2": {"field": "hi"}}},
     {"data": {"name": "iauc"}, "transform": [{"calculate": "datum.v + datum.e", "as": "hi"}], "mark": {"type": "tick", "color": "black", "thickness": 1.3, "size": 12, "orient": "horizontal"},
      "encoding": {"x": {"field": "g", "type": "nominal", "title": null, "sort": ["WKY control", "Vehicle", "MK-2305 @ 10 mpk", "MK-2305 @ 3 mpk", "MK-2305 @ 1 mpk", "MK-2305 @ 0.3 mpk"]},
                   "y": {"field": "hi", "type": "quantitative", "title": "AUC (ng*min/mL)", "scale": {"domain": [0, 250], "nice": false}}}},
     {"data": {"name": "iauc"}, "transform": [{"calculate": "datum.v + datum.e", "as": "hi"}, {"filter": "datum.sig"}], "mark": {"type": "text", "color": "black", "fontSize": 9, "dy": -7},
      "encoding": {"x": {"field": "g", "type": "nominal", "title": null, "sort": ["WKY control", "Vehicle", "MK-2305 @ 10 mpk", "MK-2305 @ 3 mpk", "MK-2305 @ 1 mpk", "MK-2305 @ 0.3 mpk"]},
                   "y": {"field": "hi", "type": "quantitative", "title": "AUC (ng*min/mL)", "scale": {"domain": [0, 250], "nice": false}}, "text": {"value": "***"}}},
     {"data": {"name": "iauc"}, "mark": {"type": "point", "opacity": 0, "strokeWidth": 1.2},
      "encoding": {"x": {"field": "g", "type": "nominal", "title": null, "sort": ["WKY control", "Vehicle", "MK-2305 @ 10 mpk", "MK-2305 @ 3 mpk", "MK-2305 @ 1 mpk", "MK-2305 @ 0.3 mpk"]},
                   "y": {"field": "v", "type": "quantitative", "title": "AUC (ng*min/mL)", "scale": {"domain": [0, 250], "nice": false}},
                   "shape": {"field": "g", "type": "nominal", "scale": {"domain": ["WKY control", "MK-2305 @ 3 mpk", "Vehicle", "MK-2305 @ 1 mpk", "MK-2305 @ 10 mpk", "MK-2305 @ 0.3 mpk"], "range": ["M-1.3,-0.55H1.3V0.55H-1.3Z", "M-1.3,-0.55H1.3V0.55H-1.3Z", "M-1.3,-0.55H1.3V0.55H-1.3Z", "M-1.3,-0.55H1.3V0.55H-1.3Z", "M-1.3,-0.55H1.3V0.55H-1.3Z", "M-1.3,-0.55H1.3V0.55H-1.3Z"]},
                             "legend": {"orient": "none", "legendX": -21.5, "legendY": 259, "direction": "horizontal", "columns": 2, "title": null, "symbolSize": 256, "symbolOpacity": 1, "symbolStrokeColor": "black", "symbolStrokeWidth": 1.2, "labelOffset": 12, "columnPadding": 27, "rowPadding": 3.5, "encode": {"symbols": {"update": {"stroke": {"value": "black"}, "strokeWidth": {"value": 1.2}, "opacity": {"value": 1}, "fill": {"signal": "datum.value === 'MK-2305 @ 1 mpk' ? {gradient: 'linear', x1: 0, y1: 1, x2: 1.208, y2: 0.489, stops: [{offset: 0, color: 'white'}, {offset: 0.15, color: 'white'}, {offset: 0.15, color: 'black'}, {offset: 0.25, color: 'black'}, {offset: 0.25, color: 'white'}, {offset: 0.4, color: 'white'}, {offset: 0.4, color: 'black'}, {offset: 0.5, color: 'black'}, {offset: 0.5, color: 'white'}, {offset: 0.65, color: 'white'}, {offset: 0.65, color: 'black'}, {offset: 0.75, color: 'black'}, {offset: 0.75, color: 'white'}, {offset: 0.9, color: 'white'}, {offset: 0.9, color: 'black'}, {offset: 1, color: 'black'}]} : datum.value === 'MK-2305 @ 0.3 mpk' ? {gradient: 'linear', x1: 0, y1: 0, x2: 1, y2: 0, stops: [{offset: 0, color: 'white'}, {offset: 0.23, color: 'white'}, {offset: 0.23, color: 'black'}, {offset: 0.28, color: 'black'}, {offset: 0.28, color: 'white'}, {offset: 0.475, color: 'white'}, {offset: 0.475, color: 'black'}, {offset: 0.525, color: 'black'}, {offset: 0.525, color: 'white'}, {offset: 0.72, color: 'white'}, {offset: 0.72, color: 'black'}, {offset: 0.77, color: 'black'}, {offset: 0.77, color: 'white'}, {offset: 1, color: 'white'}]} : datum.value === 'Vehicle' ? 'black' : datum.value === 'MK-2305 @ 10 mpk' ? 'white' : datum.value === 'MK-2305 @ 3 mpk' ? '#454545' : '#dcdcdc'"}}}}}},
                   "fill": {"field": "g", "type": "nominal", "scale": {"domain": ["WKY control", "MK-2305 @ 3 mpk", "Vehicle", "MK-2305 @ 1 mpk", "MK-2305 @ 10 mpk", "MK-2305 @ 0.3 mpk"], "range": ["#dcdcdc", "#454545", "black", "#a6a6a6", "white", "#c8c8c8"]},
                            "legend": {"orient": "none", "legendX": -21.5, "legendY": 259, "direction": "horizontal", "columns": 2, "title": null, "symbolSize": 256, "symbolOpacity": 1, "symbolStrokeColor": "black", "symbolStrokeWidth": 1.2, "labelOffset": 12, "columnPadding": 27, "rowPadding": 3.5, "encode": {"symbols": {"update": {"stroke": {"value": "black"}, "strokeWidth": {"value": 1.2}, "opacity": {"value": 1}, "fill": {"signal": "datum.value === 'MK-2305 @ 1 mpk' ? {gradient: 'linear', x1: 0, y1: 1, x2: 1.208, y2: 0.489, stops: [{offset: 0, color: 'white'}, {offset: 0.15, color: 'white'}, {offset: 0.15, color: 'black'}, {offset: 0.25, color: 'black'}, {offset: 0.25, color: 'white'}, {offset: 0.4, color: 'white'}, {offset: 0.4, color: 'black'}, {offset: 0.5, color: 'black'}, {offset: 0.5, color: 'white'}, {offset: 0.65, color: 'white'}, {offset: 0.65, color: 'black'}, {offset: 0.75, color: 'black'}, {offset: 0.75, color: 'white'}, {offset: 0.9, color: 'white'}, {offset: 0.9, color: 'black'}, {offset: 1, color: 'black'}]} : datum.value === 'MK-2305 @ 0.3 mpk' ? {gradient: 'linear', x1: 0, y1: 0, x2: 1, y2: 0, stops: [{offset: 0, color: 'white'}, {offset: 0.23, color: 'white'}, {offset: 0.23, color: 'black'}, {offset: 0.28, color: 'black'}, {offset: 0.28, color: 'white'}, {offset: 0.475, color: 'white'}, {offset: 0.475, color: 'black'}, {offset: 0.525, color: 'black'}, {offset: 0.525, color: 'white'}, {offset: 0.72, color: 'white'}, {offset: 0.72, color: 'black'}, {offset: 0.77, color: 'black'}, {offset: 0.77, color: 'white'}, {offset: 1, color: 'white'}]} : datum.value === 'Vehicle' ? 'black' : datum.value === 'MK-2305 @ 10 mpk' ? 'white' : datum.value === 'MK-2305 @ 3 mpk' ? '#454545' : '#dcdcdc'"}}}}}},
                   "stroke": {"value": "black"}}}
    ]
   }]
  }
 ]}
],
"spacing": 53
}
